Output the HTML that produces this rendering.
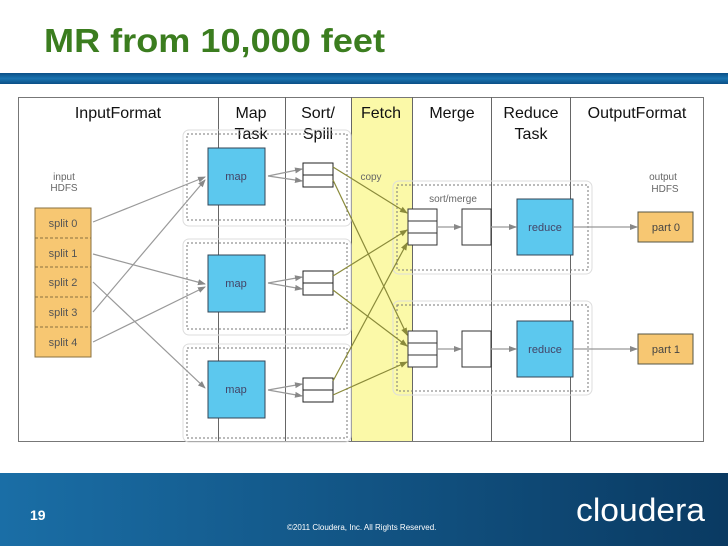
<!DOCTYPE html>
<html><head><meta charset="utf-8"><style>
html,body{margin:0;padding:0;background:#fff}
body{width:728px;height:546px;overflow:hidden;position:relative;font-family:"Liberation Sans",sans-serif}
</style></head><body>
<svg width="728" height="546" viewBox="0 0 728 546" xmlns="http://www.w3.org/2000/svg" style="position:absolute;left:0;top:0">
<defs>
<linearGradient id="bar" x1="0" y1="0" x2="0" y2="1"><stop offset="0" stop-color="#0b4f86"/><stop offset="0.5" stop-color="#1a74b0"/><stop offset="1" stop-color="#0b4f86"/></linearGradient>
<linearGradient id="foot" x1="0" y1="0" x2="1" y2="0"><stop offset="0" stop-color="#1a6ea6"/><stop offset="1" stop-color="#0a3a62"/></linearGradient>
<marker id="ag" markerWidth="8" markerHeight="8" refX="7" refY="4" orient="auto" markerUnits="userSpaceOnUse"><path d="M0,1 L8,4 L0,7 z" fill="#888"/></marker>
<marker id="ao" markerWidth="8" markerHeight="8" refX="7" refY="4" orient="auto" markerUnits="userSpaceOnUse"><path d="M0,1 L8,4 L0,7 z" fill="#8a8a3a"/></marker>
</defs>
<text x="44" y="52" font-size="33" font-weight="bold" fill="#3b7d1f" font-family="Liberation Sans,sans-serif" textLength="341" lengthAdjust="spacingAndGlyphs">MR from 10,000 feet</text>
<rect x="0" y="73" width="728" height="11" fill="url(#bar)"/>

<rect x="351" y="97" width="61" height="344" fill="#fbf9a8"/>
<rect x="18.5" y="97.5" width="685" height="344" fill="none" stroke="#777"/>
<g stroke="#666" stroke-width="1">
<line x1="218.5" y1="97" x2="218.5" y2="441"/><line x1="285.5" y1="97" x2="285.5" y2="441"/>
<line x1="351.5" y1="97" x2="351.5" y2="441"/><line x1="412.5" y1="97" x2="412.5" y2="441"/>
<line x1="491.5" y1="97" x2="491.5" y2="441"/><line x1="570.5" y1="97" x2="570.5" y2="441"/>
</g>
<g font-size="16" fill="#111" text-anchor="middle">
<text x="118" y="118">InputFormat</text>
<text x="251" y="118">Map</text><text x="251" y="139">Task</text>
<text x="318" y="118">Sort/</text><text x="318" y="139">Spill</text>
<text x="381" y="118">Fetch</text>
<text x="452" y="118">Merge</text>
<text x="531" y="118">Reduce</text><text x="531" y="139">Task</text>
<text x="637" y="118">OutputFormat</text>
</g>

<g fill="none" stroke="#777" stroke-dasharray="2,2">
<rect x="187" y="134" width="160" height="86"/>
<rect x="187" y="243" width="160" height="86"/>
<rect x="187" y="348" width="160" height="90"/>
<rect x="397" y="185" width="191" height="85"/>
<rect x="397" y="305" width="191" height="86"/>
</g>
<g fill="none" stroke="#ddd">
<rect x="183" y="130" width="168" height="96" rx="6"/>
<rect x="183" y="239" width="168" height="96" rx="6"/>
<rect x="183" y="344" width="168" height="98" rx="6"/>
<rect x="393" y="181" width="199" height="93" rx="6"/>
<rect x="393" y="301" width="199" height="94" rx="6"/>
</g>

<g font-size="10" fill="#666" text-anchor="middle">
<text x="64" y="180">input</text><text x="64" y="191">HDFS</text>
<text x="663" y="180">output</text><text x="665" y="192">HDFS</text>
<text x="371" y="180">copy</text>
<text x="453" y="202">sort/merge</text>
</g>

<rect x="35" y="208" width="56" height="149" fill="#f7c772" stroke="#8a7040"/>
<g stroke="#8a7040" stroke-dasharray="3,2"><line x1="35" y1="238" x2="91" y2="238"/><line x1="35" y1="267" x2="91" y2="267"/><line x1="35" y1="297" x2="91" y2="297"/><line x1="35" y1="327" x2="91" y2="327"/></g>
<g font-size="11" fill="#555" text-anchor="middle">
<text x="63" y="227">split 0</text><text x="63" y="257">split 1</text><text x="63" y="286">split 2</text><text x="63" y="316">split 3</text><text x="63" y="346">split 4</text>
</g>

<g fill="#5cc8ee" stroke="#345"><rect x="208" y="148" width="57" height="57"/><rect x="208" y="255" width="57" height="57"/><rect x="208" y="361" width="57" height="57"/></g>
<g font-size="11" fill="#446" text-anchor="middle"><text x="236" y="180">map</text><text x="236" y="287">map</text><text x="236" y="393">map</text></g>

<g fill="#fff" stroke="#222">
<rect x="303" y="163" width="30" height="24"/><line x1="303" y1="175" x2="333" y2="175"/>
<rect x="303" y="271" width="30" height="24"/><line x1="303" y1="283" x2="333" y2="283"/>
<rect x="303" y="378" width="30" height="24"/><line x1="303" y1="390" x2="333" y2="390"/>
</g>

<g fill="#fff" stroke="#333">
<rect x="408" y="209" width="29" height="36"/><line x1="408" y1="221" x2="437" y2="221"/><line x1="408" y1="233" x2="437" y2="233"/>
<rect x="408" y="331" width="29" height="36"/><line x1="408" y1="343" x2="437" y2="343"/><line x1="408" y1="355" x2="437" y2="355"/>
<rect x="462" y="209" width="29" height="36"/><rect x="462" y="331" width="29" height="36"/>
</g>
<g fill="#5cc8ee" stroke="#345"><rect x="517" y="199" width="56" height="56"/><rect x="517" y="321" width="56" height="56"/></g>
<g font-size="11" fill="#446" text-anchor="middle"><text x="545" y="231">reduce</text><text x="545" y="353">reduce</text></g>
<g fill="#f7c772" stroke="#554"><rect x="638" y="212" width="55" height="30"/><rect x="638" y="334" width="55" height="30"/></g>
<g font-size="11" fill="#444" text-anchor="middle"><text x="666" y="231">part 0</text><text x="666" y="353">part 1</text></g>

<g stroke="#999" stroke-width="1.2" fill="none" marker-end="url(#ag)">
<line x1="93" y1="222" x2="205" y2="177"/>
<line x1="93" y1="254" x2="205" y2="284"/>
<line x1="93" y1="282" x2="205" y2="388"/>
<line x1="93" y1="312" x2="205" y2="180"/>
<line x1="93" y1="342" x2="205" y2="287"/>
<line x1="268" y1="176" x2="302" y2="169"/><line x1="268" y1="176" x2="302" y2="181"/>
<line x1="268" y1="283" x2="302" y2="277"/><line x1="268" y1="283" x2="302" y2="289"/>
<line x1="268" y1="390" x2="302" y2="384"/><line x1="268" y1="390" x2="302" y2="396"/>
<line x1="437" y1="227" x2="461" y2="227"/><line x1="437" y1="349" x2="461" y2="349"/>
<line x1="491" y1="227" x2="516" y2="227"/><line x1="491" y1="349" x2="516" y2="349"/>
<line x1="573" y1="227" x2="637" y2="227"/><line x1="573" y1="349" x2="637" y2="349"/>
</g>
<g stroke="#8a8a3a" stroke-width="1.2" fill="none" marker-end="url(#ao)">
<line x1="333" y1="167" x2="407" y2="213"/>
<line x1="333" y1="180" x2="407" y2="335"/>
<line x1="333" y1="276" x2="407" y2="230"/>
<line x1="333" y1="290" x2="407" y2="346"/>
<line x1="333" y1="381" x2="407" y2="243"/>
<line x1="333" y1="395" x2="407" y2="362"/>
</g>

<rect x="0" y="473" width="728" height="73" fill="url(#foot)"/>
<text x="30" y="520" font-size="14" font-weight="bold" fill="#fff">19</text>
<text x="287" y="530" font-size="8" fill="#fff">©2011 Cloudera, Inc. All Rights Reserved.</text>
<text x="576" y="521" font-size="32" fill="#fff" textLength="129" lengthAdjust="spacingAndGlyphs">cloudera</text>
</svg>
</body></html>
